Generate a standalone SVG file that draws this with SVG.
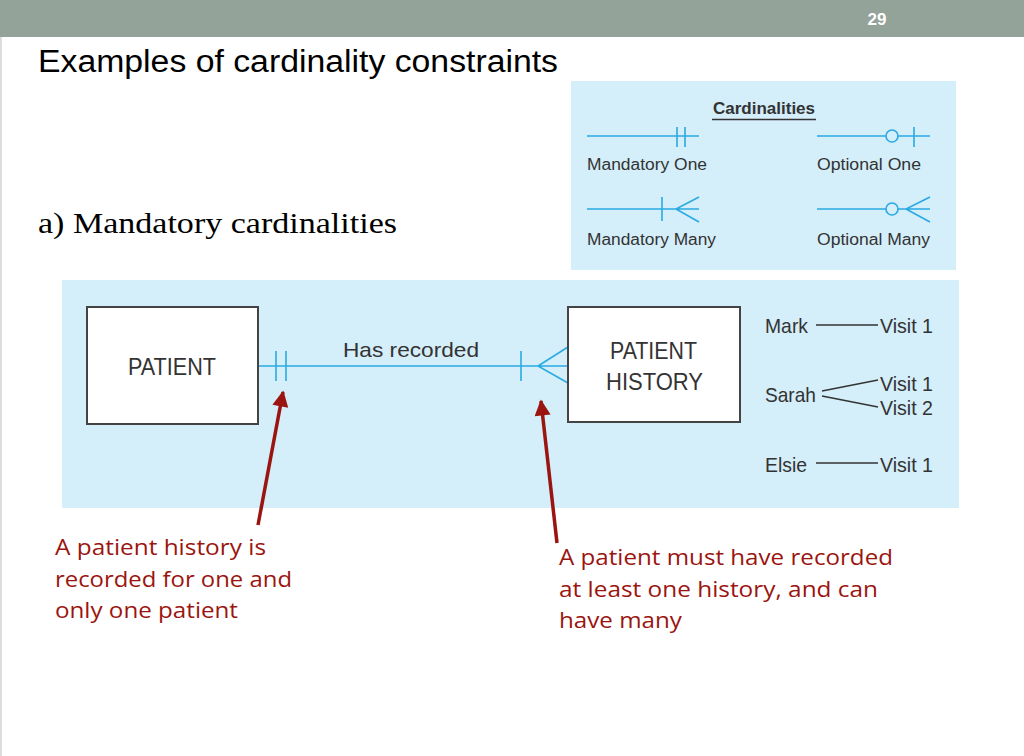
<svg xmlns="http://www.w3.org/2000/svg" width="1024" height="756" viewBox="0 0 1024 756">
<style>
.sans{font-family:"Liberation Sans",Arial,sans-serif;fill:#333}
.lg{font-size:16px}
.ent{font-size:24px}
.ex{font-size:21px}
.note{font-family:"Open Sans","DejaVu Sans",sans-serif;font-size:22px;fill:#9B1510}
.card{stroke:#2AAAE2;stroke-width:1.6;fill:none}
.box{fill:#fff;stroke:#444;stroke-width:2}
.red{stroke:#9B1510;stroke-width:3.5;fill:none}
.thin{stroke:#333;stroke-width:1.3;fill:none}
</style>
<defs>
<marker id="ah" viewBox="0 0 10 10" refX="9" refY="5" markerWidth="6.5" markerHeight="4.6" orient="auto" markerUnits="strokeWidth">
<path d="M0,0 L10,5 L0,10 z" fill="#9B1510"/>
</marker>
</defs>
<rect x="0" y="0" width="1024" height="756" fill="#fff"/>
<rect x="0" y="0" width="2" height="756" fill="#ddd"/>
<rect x="0" y="0" width="1024" height="37" fill="#94A39A"/>
<text x="877" y="25" text-anchor="middle" font-family="Liberation Sans,Arial,sans-serif" font-weight="bold" font-size="17" fill="#fff">29</text>
<text x="38" y="72" font-family="Liberation Sans,Arial,sans-serif" font-size="31" fill="#000" textLength="520" lengthAdjust="spacingAndGlyphs">Examples of cardinality constraints</text>
<text x="38" y="233" font-family="Liberation Serif,'Times New Roman',serif" font-size="30" fill="#000" textLength="359" lengthAdjust="spacingAndGlyphs">a) Mandatory cardinalities</text>

<g id="legend">
<rect x="571" y="81" width="385" height="189" fill="#D4EEFA"/>
<text class="sans lg" x="713" y="114" font-weight="bold" textLength="102" lengthAdjust="spacingAndGlyphs">Cardinalities</text>
<line x1="712" y1="119.5" x2="816" y2="119.5" stroke="#333" stroke-width="1.3"/>
<path class="card" d="M587,136 H699 M677,127 V147 M685,127 V147"/>
<text class="sans lg" x="587" y="170" textLength="120" lengthAdjust="spacingAndGlyphs">Mandatory One</text>
<path class="card" d="M817,136 H886 M898,136 H930 M914,127 V147"/>
<circle class="card" cx="892" cy="136" r="6"/>
<text class="sans lg" x="817" y="170" textLength="104" lengthAdjust="spacingAndGlyphs">Optional One</text>
<path class="card" d="M587,209 H699 M662,197 V221 M699,197 L676,209 L699,222"/>
<text class="sans lg" x="587" y="245" textLength="129" lengthAdjust="spacingAndGlyphs">Mandatory Many</text>
<path class="card" d="M817,209 H886 M898,209 H930 M930,197 L906,209 L930,222"/>
<circle class="card" cx="892" cy="209" r="6"/>
<text class="sans lg" x="817" y="245" textLength="113" lengthAdjust="spacingAndGlyphs">Optional Many</text>
</g>

<rect x="62" y="280" width="897" height="228" fill="#D4EEFA"/>

<g id="connectors">
<path class="card" d="M258,366 H568 M276,351 V381 M286,351 V381 M521,351 V381 M568,347 L538,366 L568,383"/>
<text class="sans ex" x="343" y="357" textLength="136" lengthAdjust="spacingAndGlyphs">Has recorded</text>
</g>

<g id="patient">
<rect class="box" x="87" y="307" width="171" height="117"/>
<text class="sans ent" x="128" y="375" textLength="88" lengthAdjust="spacingAndGlyphs">PATIENT</text>
</g>

<g id="patient-history">
<rect class="box" x="568" y="307" width="172" height="115"/>
<text class="sans ent" x="610" y="359" textLength="87" lengthAdjust="spacingAndGlyphs">PATIENT</text>
<text class="sans ent" x="606" y="390" textLength="97" lengthAdjust="spacingAndGlyphs">HISTORY</text>
</g>

<g id="instances">
<text class="sans ex" x="765" y="333" textLength="43" lengthAdjust="spacingAndGlyphs">Mark</text>
<line class="thin" x1="816" y1="325" x2="878" y2="325"/>
<text class="sans ex" x="880" y="333" textLength="53" lengthAdjust="spacingAndGlyphs">Visit 1</text>
<text class="sans ex" x="765" y="402" textLength="51" lengthAdjust="spacingAndGlyphs">Sarah</text>
<path class="thin" d="M822,391 L878,380 M822,396 L878,407"/>
<text class="sans ex" x="880" y="391" textLength="53" lengthAdjust="spacingAndGlyphs">Visit 1</text>
<text class="sans ex" x="880" y="415" textLength="53" lengthAdjust="spacingAndGlyphs">Visit 2</text>
<text class="sans ex" x="765" y="472" textLength="42" lengthAdjust="spacingAndGlyphs">Elsie</text>
<line class="thin" x1="816" y1="463" x2="878" y2="463"/>
<text class="sans ex" x="880" y="472" textLength="53" lengthAdjust="spacingAndGlyphs">Visit 1</text>
</g>

<g id="note-one">
<line class="red" x1="258" y1="525" x2="283" y2="392" marker-end="url(#ah)"/>
<text class="note" x="55" y="555" textLength="211" lengthAdjust="spacingAndGlyphs">A patient history is</text>
<text class="note" x="55" y="587" textLength="237" lengthAdjust="spacingAndGlyphs">recorded for one and</text>
<text class="note" x="55" y="618" textLength="183" lengthAdjust="spacingAndGlyphs">only one patient</text>
</g>

<g id="note-many">
<line class="red" x1="557" y1="543" x2="541" y2="401" marker-end="url(#ah)"/>
<text class="note" x="559" y="565" textLength="334" lengthAdjust="spacingAndGlyphs">A patient must have recorded</text>
<text class="note" x="559" y="597" textLength="319" lengthAdjust="spacingAndGlyphs">at least one history, and can</text>
<text class="note" x="559" y="628" textLength="123" lengthAdjust="spacingAndGlyphs">have many</text>
</g>
</svg>
